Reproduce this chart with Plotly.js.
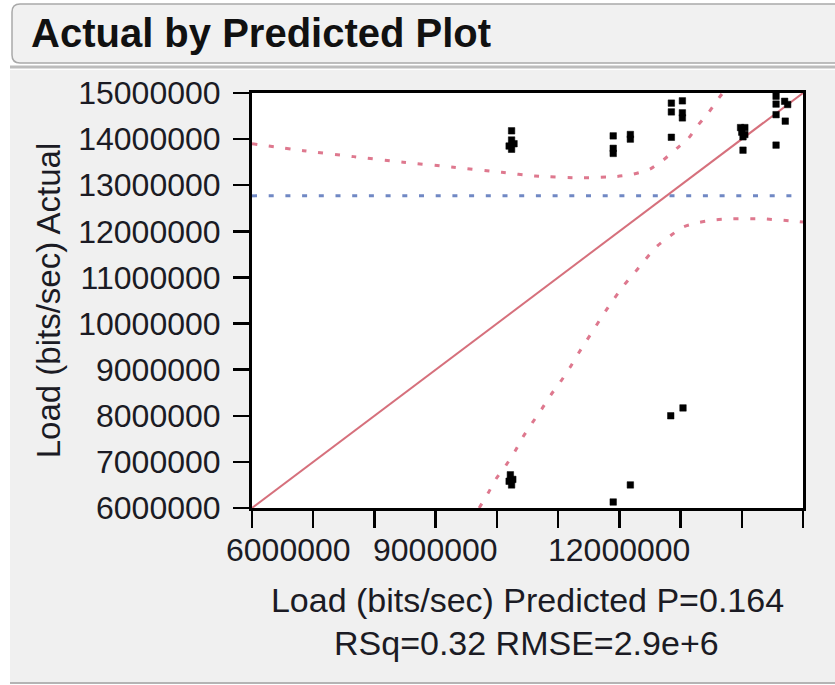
<!DOCTYPE html>
<html>
<head>
<meta charset="utf-8">
<script src="https://cdn.plot.ly/plotly-3.0.1.min.js"></script>
<style>
  html, body { margin: 0; padding: 0; background: #ffffff; }
  #chart { width: 835px; height: 685px; }
</style>
</head>
<body>
<div id="chart"></div>
<script>
// ---------- data ----------
const chartTitle = 'Actual by Predicted Plot';
const xTitle = 'Load (bits/sec) Predicted P=0.164';
const xSubtitle = 'RSq=0.32 RMSE=2.9e+6';
const yTitle = 'Load (bits/sec) Actual';

// observations: predicted (x) vs actual (y)
const predicted = [10.24e6, 10.24e6, 10.28e6, 10.20e6, 10.24e6,
                   11.90e6, 11.90e6, 11.90e6, 12.18e6, 12.18e6,
                   12.85e6, 12.85e6, 13.03e6, 13.03e6, 13.03e6, 12.85e6,
                   13.98e6, 14.05e6, 14.00e6, 14.05e6, 14.02e6, 14.02e6,
                   14.56e6, 14.56e6, 14.70e6, 14.75e6, 14.56e6, 14.71e6, 14.56e6,
                   10.22e6, 10.26e6, 10.20e6, 10.24e6, 12.18e6, 11.90e6,
                   12.84e6, 13.04e6];
const actual = [14.18e6, 13.98e6, 13.90e6, 13.85e6, 13.78e6,
                14.07e6, 13.80e6, 13.69e6, 14.10e6, 14.00e6,
                14.78e6, 14.59e6, 14.83e6, 14.57e6, 14.46e6, 14.04e6,
                14.25e6, 14.25e6, 14.15e6, 14.10e6, 14.05e6, 13.76e6,
                14.93e6, 14.76e6, 14.82e6, 14.75e6, 14.53e6, 14.39e6, 13.87e6,
                6.72e6, 6.62e6, 6.58e6, 6.50e6, 6.50e6, 6.13e6,
                8.00e6, 8.17e6];

// line of fit (actual = predicted)
const fitX = [6.0e6, 15.0e6];
const fitY = [6.0e6, 15.0e6];

// mean of actual (horizontal reference)
const meanX = [6.0e6, 15.0e6];
const meanY = [12.77e6, 12.77e6];

// upper confidence curve
const upperX = [6.00e6, 6.84e6, 7.66e6, 8.47e6, 9.29e6, 10.08e6, 10.62e6, 11.41e6,
                11.96e6, 12.23e6, 12.50e6, 12.72e6, 12.94e6, 13.13e6, 13.29e6,
                13.45e6, 13.62e6, 13.70e6];
const upperY = [13.90e6, 13.75e6, 13.62e6, 13.50e6, 13.39e6, 13.28e6, 13.20e6, 13.16e6,
                13.19e6, 13.24e6, 13.35e6, 13.55e6, 13.80e6, 14.02e6, 14.31e6,
                14.56e6, 14.88e6, 15.02e6];

// lower confidence curve
const lowerX = [9.71e6, 9.86e6, 9.99e6, 10.15e6, 10.30e6, 10.43e6, 10.58e6, 10.73e6,
                10.88e6, 11.04e6, 11.19e6, 11.33e6, 11.47e6, 11.62e6, 11.77e6,
                11.92e6, 12.08e6, 12.26e6, 12.42e6, 12.61e6, 12.83e6, 13.05e6,
                13.29e6, 13.57e6, 13.84e6, 14.36e6, 14.93e6, 15.00e6];
const lowerY = [6.00e6, 6.33e6, 6.64e6, 6.93e6, 7.24e6, 7.55e6, 7.85e6, 8.14e6,
                8.45e6, 8.74e6, 9.04e6, 9.35e6, 9.64e6, 9.95e6, 10.26e6,
                10.55e6, 10.84e6, 11.12e6, 11.38e6, 11.67e6, 11.90e6, 12.10e6,
                12.19e6, 12.25e6, 12.27e6, 12.27e6, 12.21e6, 12.20e6];

// axis ticks
const xTickVals = [6e6, 7e6, 8e6, 9e6, 10e6, 11e6, 12e6, 13e6, 14e6, 15e6];
const xLabelVals = [6e6, 9e6, 12e6];
const xLabelText = ['6000000', '9000000', '12000000'];
const yTickVals = [6e6, 7e6, 8e6, 9e6, 10e6, 11e6, 12e6, 13e6, 14e6, 15e6];
const yTickText = ['6000000', '7000000', '8000000', '9000000', '10000000',
                   '11000000', '12000000', '13000000', '14000000', '15000000'];

// ---------- layout / style ----------
const W = 835, H = 685;
const M = {l: 252, r: 32, t: 93, b: 177};
const PW = W - M.l - M.r, PH = H - M.t - M.b;
const px = v => (v - M.l) / PW;           // pixel x -> paper x
const py = v => (H - M.b - v) / PH;       // pixel y -> paper y

const FONT = 'Liberation Sans, Arial, sans-serif';
const TXT = '#1b1b24';
const PINK = 'rgb(214,112,124)';
const PINKDOT = 'rgb(222,120,142)';
const BLUEDOT = 'rgb(112,136,196)';

const traces = [
  {x: meanX, y: meanY, mode: 'lines', type: 'scatter', hoverinfo: 'skip',
   line: {color: BLUEDOT, width: 3, dash: '5px,11.7px'}},
  {x: upperX, y: upperY, mode: 'lines', type: 'scatter', hoverinfo: 'skip',
   line: {color: PINKDOT, width: 3, dash: '5px,11.7px', shape: 'spline', smoothing: 0.6}},
  {x: lowerX, y: lowerY, mode: 'lines', type: 'scatter', hoverinfo: 'skip',
   line: {color: PINKDOT, width: 3, dash: '5px,11.7px', shape: 'spline', smoothing: 0.6}},
  {x: fitX, y: fitY, mode: 'lines', type: 'scatter', hoverinfo: 'skip',
   line: {color: PINK, width: 2}},
  {x: predicted, y: actual, mode: 'markers', type: 'scatter',
   marker: {symbol: 'square', size: 6.5, color: '#000000', line: {width: 0.5, color: '#000000'}}}
];

const headerPath =
  'M ' + px(20) + ',' + py(4) + ' L ' + px(860) + ',' + py(4) +
  ' L ' + px(860) + ',' + py(63) + ' L ' + px(20) + ',' + py(63) +
  ' Q ' + px(12) + ',' + py(63) + ' ' + px(12) + ',' + py(55) +
  ' L ' + px(12) + ',' + py(12) +
  ' Q ' + px(12) + ',' + py(4) + ' ' + px(20) + ',' + py(4) + ' Z';

const shapes = [
  {type: 'rect', xref: 'paper', yref: 'paper', layer: 'below',
   x0: px(10), x1: px(860), y0: py(70), y1: py(682),
   fillcolor: '#f0f0f0', line: {width: 0}},
  {type: 'line', xref: 'paper', yref: 'paper', layer: 'below',
   x0: px(10), x1: px(860), y0: py(67), y1: py(67),
   line: {color: '#bcbcbc', width: 3}},
  {type: 'line', xref: 'paper', yref: 'paper', layer: 'below',
   x0: px(10), x1: px(860), y0: py(683), y1: py(683),
   line: {color: '#b4b4b4', width: 2}},
  {type: 'path', xref: 'paper', yref: 'paper', layer: 'below',
   path: headerPath, fillcolor: '#f1f1f1', line: {color: '#a9a9a9', width: 1.5}},
  {type: 'rect', xref: 'paper', yref: 'paper', layer: 'below',
   x0: 0, x1: 1, y0: 0, y1: 1, fillcolor: '#ffffff', line: {width: 0}}
];

const annotations = [
  {text: chartTitle, xref: 'paper', yref: 'paper', x: px(29), y: py(33),
   xanchor: 'left', yanchor: 'middle', showarrow: false,
   font: {family: FONT, size: 40, color: '#111111', weight: 'bold'}},
  {text: xSubtitle, xref: 'paper', yref: 'paper', x: px(526), y: py(643),
   xanchor: 'center', yanchor: 'middle', showarrow: false,
   font: {family: FONT, size: 34, color: TXT}}
];
xLabelVals.forEach((v, i) => {
  annotations.push({
    text: xLabelText[i], xref: 'x', yref: 'paper', x: v, y: 0,
    xanchor: i === 0 ? 'left' : 'center', xshift: i === 0 ? -28 : 0,
    yanchor: 'top', yshift: -22, showarrow: false,
    font: {family: FONT, size: 32, color: TXT}
  });
});

const layout = {
  width: W, height: H,
  margin: M,
  paper_bgcolor: '#ffffff',
  plot_bgcolor: '#ffffff',
  showlegend: false,
  font: {family: FONT, color: TXT},
  xaxis: {
    range: [6e6, 15e6], tickmode: 'array', tickvals: xTickVals,
    showticklabels: false, ticks: 'outside', ticklen: 17, tickwidth: 2.5,
    tickcolor: '#000', showline: true, linecolor: '#000', linewidth: 3,
    mirror: true, showgrid: false, zeroline: false,
    title: {text: xTitle, font: {family: FONT, size: 34, color: TXT}, standoff: 62}
  },
  yaxis: {
    range: [6e6, 15e6], tickmode: 'array', tickvals: yTickVals, ticktext: yTickText,
    ticks: 'outside', ticklen: 16, tickwidth: 2.5, tickcolor: '#000',
    ticklabelstandoff: 6,
    tickfont: {family: FONT, size: 32, color: TXT},
    showline: true, linecolor: '#000', linewidth: 3, mirror: true,
    showgrid: false, zeroline: false,
    title: {text: yTitle, font: {family: FONT, size: 33, color: TXT}, standoff: 8}
  },
  shapes: shapes,
  annotations: annotations
};

Plotly.newPlot('chart', traces, layout, {staticPlot: true, displayModeBar: false});
</script>
</body>
</html>
